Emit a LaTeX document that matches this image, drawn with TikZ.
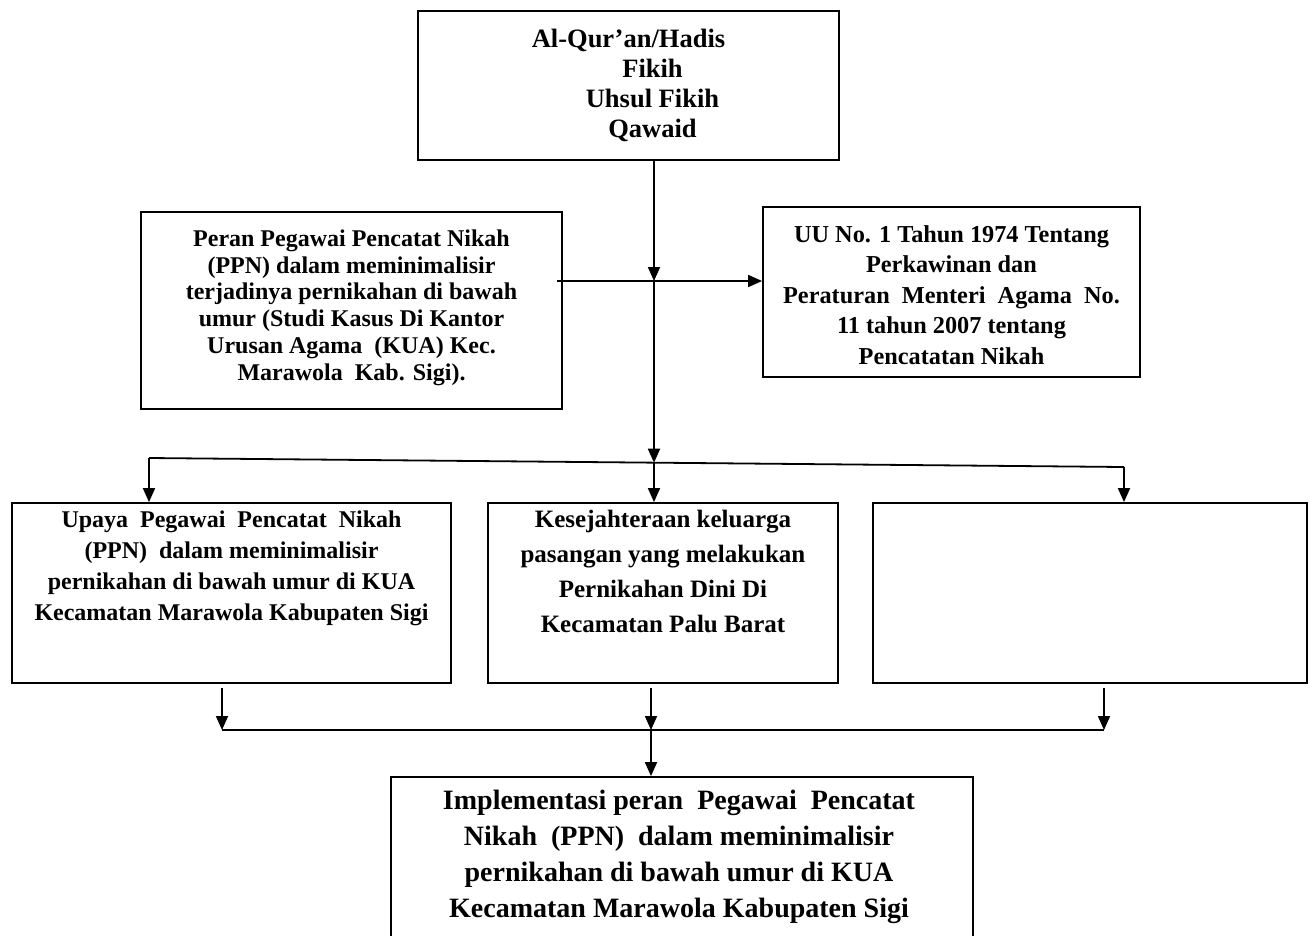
\documentclass[tikz,border=0pt]{standalone}
\usepackage{fontspec}
\setmainfont{Liberation Serif}
\usetikzlibrary{arrows.meta}
\begin{document}
\begin{tikzpicture}[x=1pt,y=-1pt,
  box/.style={draw,line width=1.8pt,inner sep=0pt},
  txt/.style={align=center,inner sep=0pt,anchor=base},
  arr/.style={line width=1.8pt,-{Triangle[length=14pt,width=12pt]}},
  ln/.style={line width=1.8pt}]
\useasboundingbox (0,0) rectangle (1310,935);
\clip (0,0) rectangle (1310,935);
% boxes
\node[box,minimum width=421pt,minimum height=149pt] (top) at (628.5,85.5) {};
\node[box,minimum width=421pt,minimum height=197pt] (pl) at (351.5,310.5) {};
\node[box,minimum width=377pt,minimum height=170pt] (pr) at (951.5,292) {};
\node[box,minimum width=439pt,minimum height=180pt] (L) at (231.5,593) {};
\node[box,minimum width=350pt,minimum height=180pt] (M) at (663,593) {};
\node[box,minimum width=434pt,minimum height=180pt] (R) at (1090,593) {};
\node[box,minimum width=582pt,minimum height=200pt] (B) at (682,877) {};
% texts (anchor = baseline of the last line)
\node[txt,font=\bfseries\fontsize{26.5}{30}\selectfont] (topt) at (628.5,137)
  {Al-Qur’an/Hadis\\\hspace*{48pt}Fikih\\\hspace*{48pt}Uhsul Fikih\\\hspace*{48pt}Qawaid};
\node[txt,font=\bfseries\fontsize{24}{26.7}\selectfont] (plt) at (351.5,380)
  {Peran Pegawai Pencatat Nikah\\(PPN) dalam meminimalisir\\terjadinya pernikahan di bawah\\umur (Studi Kasus Di Kantor\\Urusan Agama\ \ (KUA) Kec.\\Marawola\ \ Kab. Sigi).};
\node[txt,font=\bfseries\fontsize{24.3}{30.5}\selectfont] (prt) at (951.5,364)
  {UU No. 1 Tahun 1974 Tentang\\Perkawinan dan\\Peraturan\ \ Menteri\ \ Agama\ \ No.\\11 tahun 2007 tentang\\Pencatatan Nikah};
\node[txt,font=\bfseries\fontsize{24}{31}\selectfont] (Lt) at (231.5,620)
  {Upaya\ \ Pegawai\ \ Pencatat\ \ Nikah\\(PPN)\ \ dalam meminimalisir\\pernikahan di bawah umur di KUA\\Kecamatan Marawola Kabupaten Sigi};
\node[txt,font=\bfseries\fontsize{25}{34.7}\selectfont] (Mt) at (663,632)
  {Kesejahteraan keluarga\\pasangan yang melakukan\\Pernikahan Dini Di\\Kecamatan Palu Barat};
\node[txt,font=\bfseries\fontsize{28}{35.7}\selectfont] (Bt) at (679,917)
  {Implementasi peran\ \ Pegawai\ \ Pencatat\\Nikah\ \ (PPN)\ \ dalam meminimalisir\\pernikahan di bawah umur di KUA\\Kecamatan Marawola Kabupaten Sigi};
% connector points
\coordinate (j1) at (654,281);
\coordinate (hs) at (557,281);
\coordinate (sl) at (149,458);
\coordinate (sr) at (1124,467);
\coordinate (sm) at (654,462.7);
\coordinate (a1) at (222,688);
\coordinate (a2) at (651,688);
\coordinate (a3) at (1104,688);
\coordinate (bl) at (222,730);
\coordinate (bm) at (651,730);
\coordinate (br) at (1104,730);
% connectors
\draw[arr] (top.south -| j1) -- (j1);
\draw[arr] (hs) -- (pr.west |- j1);
\draw[arr] (j1) -- (sm);
\draw[ln] (sl) -- (sr);
\draw[arr] (sl) -- (L.north -| sl);
\draw[arr] (sm) -- (M.north -| sm);
\draw[arr] (sr) -- (R.north -| sr);
\draw[arr] (a1) -- (bl);
\draw[arr] (a2) -- (bm);
\draw[arr] (a3) -- (br);
\draw[ln] (bl) -- (br);
\draw[arr] (bm) -- (B.north -| bm);
\end{tikzpicture}
\end{document}
